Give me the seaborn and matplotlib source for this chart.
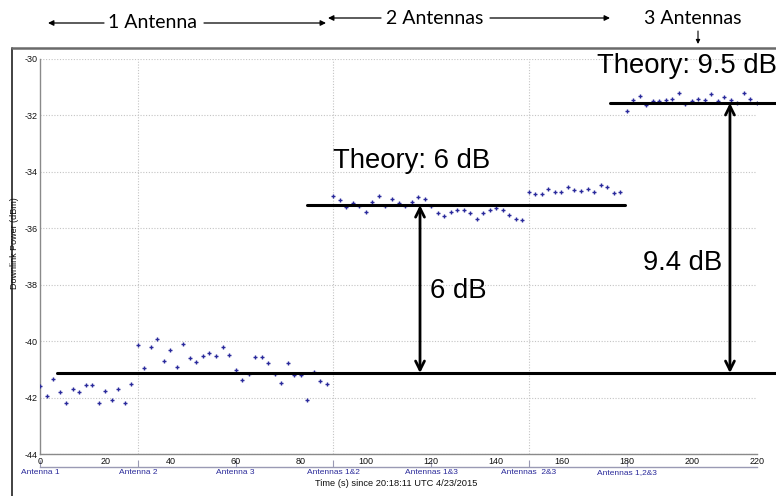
import matplotlib
matplotlib.use('Agg')
import matplotlib.pyplot as plt
from matplotlib.lines import Line2D
import seaborn as sns
import pandas as pd

sns.set_theme(style='white')
plt.rcParams['font.family'] = ['Liberation Sans', 'DejaVu Sans']
plt.rcParams['axes.unicode_minus'] = False

# ---------------- data ----------------
time_s = [0, 2, 4, 6, 8, 10, 12, 14, 16, 18, 20, 22, 24, 26, 28,
          30, 32, 34, 36, 38, 40, 42, 44, 46, 48, 50, 52, 54, 56, 58,
          60, 62, 64, 66, 68, 70, 72, 74, 76, 78, 80, 82, 84, 86, 88,
          90, 92, 94, 96, 98, 100, 102, 104, 106, 108, 110, 112, 114, 116, 118,
          120, 122, 124, 126, 128, 130, 132, 134, 136, 138, 140, 142, 144, 146, 148,
          150, 152, 154, 156, 158, 160, 162, 164, 166, 168, 170, 172, 174, 176, 178,
          180, 182, 184, 186, 188, 190, 192, 194, 196, 198, 200, 202, 204, 206, 208,
          210, 212, 214, 216, 218, 220]
power_dbm = [-41.60, -41.93, -41.33, -41.79, -42.18, -41.68, -41.79, -41.57, -41.56, -42.21,
             -41.76, -42.08, -41.68, -42.21, -41.53,
             -40.14, -40.96, -40.20, -39.93, -40.70, -40.33, -40.91, -40.11, -40.58, -40.75,
             -40.52, -40.43, -40.52, -40.21, -40.50,
             -41.02, -41.36, -41.18, -40.56, -40.56, -40.79, -41.15, -41.49, -40.79, -41.21,
             -41.21, -42.08, -41.09, -41.42, -41.51,
             -34.87, -34.99, -35.26, -35.12, -35.21, -35.41, -35.06, -34.84, -35.21, -34.95,
             -35.09, -35.22, -35.06, -34.89, -34.95,
             -35.21, -35.45, -35.58, -35.42, -35.34, -35.35, -35.45, -35.67, -35.47, -35.34,
             -35.28, -35.34, -35.52, -35.68, -35.71,
             -34.72, -34.80, -34.79, -34.62, -34.71, -34.71, -34.54, -34.65, -34.69, -34.62,
             -34.72, -34.47, -34.54, -34.74, -34.72,
             -31.83, -31.44, -31.31, -31.62, -31.49, -31.48, -31.44, -31.43, -31.21, -31.59,
             -31.49, -31.43, -31.44, -31.24, -31.49, -31.34, -31.46, -31.57, -31.22, -31.43,
             -31.57]

x_ticks = [0, 20, 40, 60, 80, 100, 120, 140, 160, 180, 200, 220]
y_ticks = [-44, -42, -40, -38, -36, -34, -32, -30]
config_ticks = [0, 30, 60, 90, 120, 150, 180]
config_labels = ['Antenna 1', 'Antenna 2', 'Antenna 3', 'Antennas 1&2',
                 'Antennas 1&3', 'Antennas  2&3', 'Antennas 1,2&3']

level_1ant = -41.13
level_2ant = -35.18
level_3ant = -31.56

df = pd.DataFrame({'time': time_s, 'power': power_dbm})

# ---------------- figure ----------------
W, H = 776, 496
fig = plt.figure(figsize=(W / 100, H / 100), dpi=100)
fig.patch.set_facecolor('white')
ax = fig.add_axes([40 / W, 1 - 454 / H, (757 - 40) / W, (454 - 59) / H])
ax.set_facecolor('white')

sns.scatterplot(data=df, x='time', y='power', marker='+', color='#2a2a9c',
                s=12, linewidth=1.0, ax=ax, legend=False, zorder=3)

ax.set_xlim(0, 220)
ax.set_ylim(-44, -30)
ax.set_xticks(x_ticks)
ax.set_yticks(y_ticks)
ax.set_xticks(config_ticks[1:], minor=True)
ax.set_xlabel('')
ax.set_ylabel('')

for s in ['top', 'right']:
    ax.spines[s].set_visible(False)
for s in ['left', 'bottom']:
    ax.spines[s].set_color('#8a8a8a')
    ax.spines[s].set_linewidth(1.0)

ax.tick_params(axis='both', which='major', direction='in', length=4, width=0.8,
               color='#8a8a8a', labelsize=6.5, labelcolor='#111111', pad=2)
ax.tick_params(axis='x', which='minor', length=0)
ax.grid(False)
ax.xaxis.grid(True, which='minor', linestyle=(0, (1, 1.5)), color='#c4c4c4', linewidth=0.8)
ax.yaxis.grid(True, which='major', linestyle=(0, (1, 1.5)), color='#c4c4c4', linewidth=0.8)
ax.set_axisbelow(True)

# secondary axis with configuration labels
sec = ax.secondary_xaxis(-0.033)
sec.set_xticks(config_ticks)
sec.set_xticklabels(config_labels)
sec.tick_params(direction='in', length=5, width=0.8, color='#9a9ab4',
                labelsize=6, labelcolor='#2b2b9b', pad=1.5)
sec.spines['bottom'].set_color('#9a9ab4')
sec.spines['bottom'].set_linewidth(1.0)

# axis labels
fig.text(396 / W, 1 - 484 / H, 'Time (s) since 20:18:11 UTC 4/23/2015',
         ha='center', va='center', fontsize=6.7, color='#111111')
fig.text(15 / W, 1 - 243 / H, 'Downlink Power (dBm)', rotation=90,
         ha='center', va='center', fontsize=6.5, color='#111111')

# level lines
ax.plot([5.2, 226.5], [level_1ant, level_1ant], color='black', lw=2.2, clip_on=False, zorder=4)
ax.plot([82, 179.4], [level_2ant, level_2ant], color='black', lw=2.2, clip_on=False, zorder=4)
ax.plot([175, 226.5], [level_3ant, level_3ant], color='black', lw=2.2, clip_on=False, zorder=4)

arrow_kw = dict(arrowstyle='<->', lw=2.0, color='black', mutation_scale=16,
                shrinkA=0, shrinkB=0)
ax.annotate('', xy=(116.6, level_2ant), xytext=(116.6, level_1ant),
            arrowprops=arrow_kw, zorder=5)
ax.annotate('', xy=(211.7, level_3ant), xytext=(211.7, level_1ant),
            arrowprops=arrow_kw, zorder=5)

big = 19.8
fig.text(333 / W, 1 - 168 / H, 'Theory: 6 dB', ha='left', va='baseline',
         fontsize=big, color='black')
fig.text(597 / W, 1 - 73 / H, 'Theory: 9.5 dB', ha='left', va='baseline',
         fontsize=big, color='black')
fig.text(430 / W, 1 - 298 / H, '6 dB', ha='left', va='baseline',
         fontsize=big, color='black')
fig.text(722 / W, 1 - 270 / H, '9.4 dB', ha='right', va='baseline',
         fontsize=big, color='black')

# window frame
fig.add_artist(Line2D([12 / W, 12 / W], [0, 1 - 48 / H], transform=fig.transFigure,
                      color='#333333', lw=1.3))
fig.add_artist(Line2D([12 / W, 1], [1 - 48 / H, 1 - 48 / H], transform=fig.transFigure,
                      color='#6a6a6a', lw=1.8))

# header annotations
hdr_font = dict(fontsize=14, family=['Lato', 'DejaVu Sans'], color='black',
                va='center', ha='center')
hk = dict(arrowstyle='-|>', lw=0.9, color='black', mutation_scale=8,
          shrinkA=0, shrinkB=0)
y1 = H - 23
y2 = H - 18
fig.text(153 / W, y1 / H, '1 Antenna', **hdr_font)
ax.annotate('', xy=(48, y1), xytext=(104, y1), xycoords='figure pixels',
            textcoords='figure pixels', arrowprops=hk, annotation_clip=False)
ax.annotate('', xy=(326, y1), xytext=(204, y1), xycoords='figure pixels',
            textcoords='figure pixels', arrowprops=hk, annotation_clip=False)
fig.text(435 / W, y2 / H, '2 Antennas', **hdr_font)
ax.annotate('', xy=(328, y2), xytext=(381, y2), xycoords='figure pixels',
            textcoords='figure pixels', arrowprops=hk, annotation_clip=False)
ax.annotate('', xy=(610, y2), xytext=(490, y2), xycoords='figure pixels',
            textcoords='figure pixels', arrowprops=hk, annotation_clip=False)
fig.text(693 / W, y2 / H, '3 Antennas', **hdr_font)
ax.annotate('', xy=(698, H - 44), xytext=(698, H - 31), xycoords='figure pixels',
            textcoords='figure pixels',
            arrowprops=dict(arrowstyle='-|>', lw=0.8, color='black', mutation_scale=6,
                            shrinkA=0, shrinkB=0), annotation_clip=False)

fig.savefig('out.png', dpi=100)
